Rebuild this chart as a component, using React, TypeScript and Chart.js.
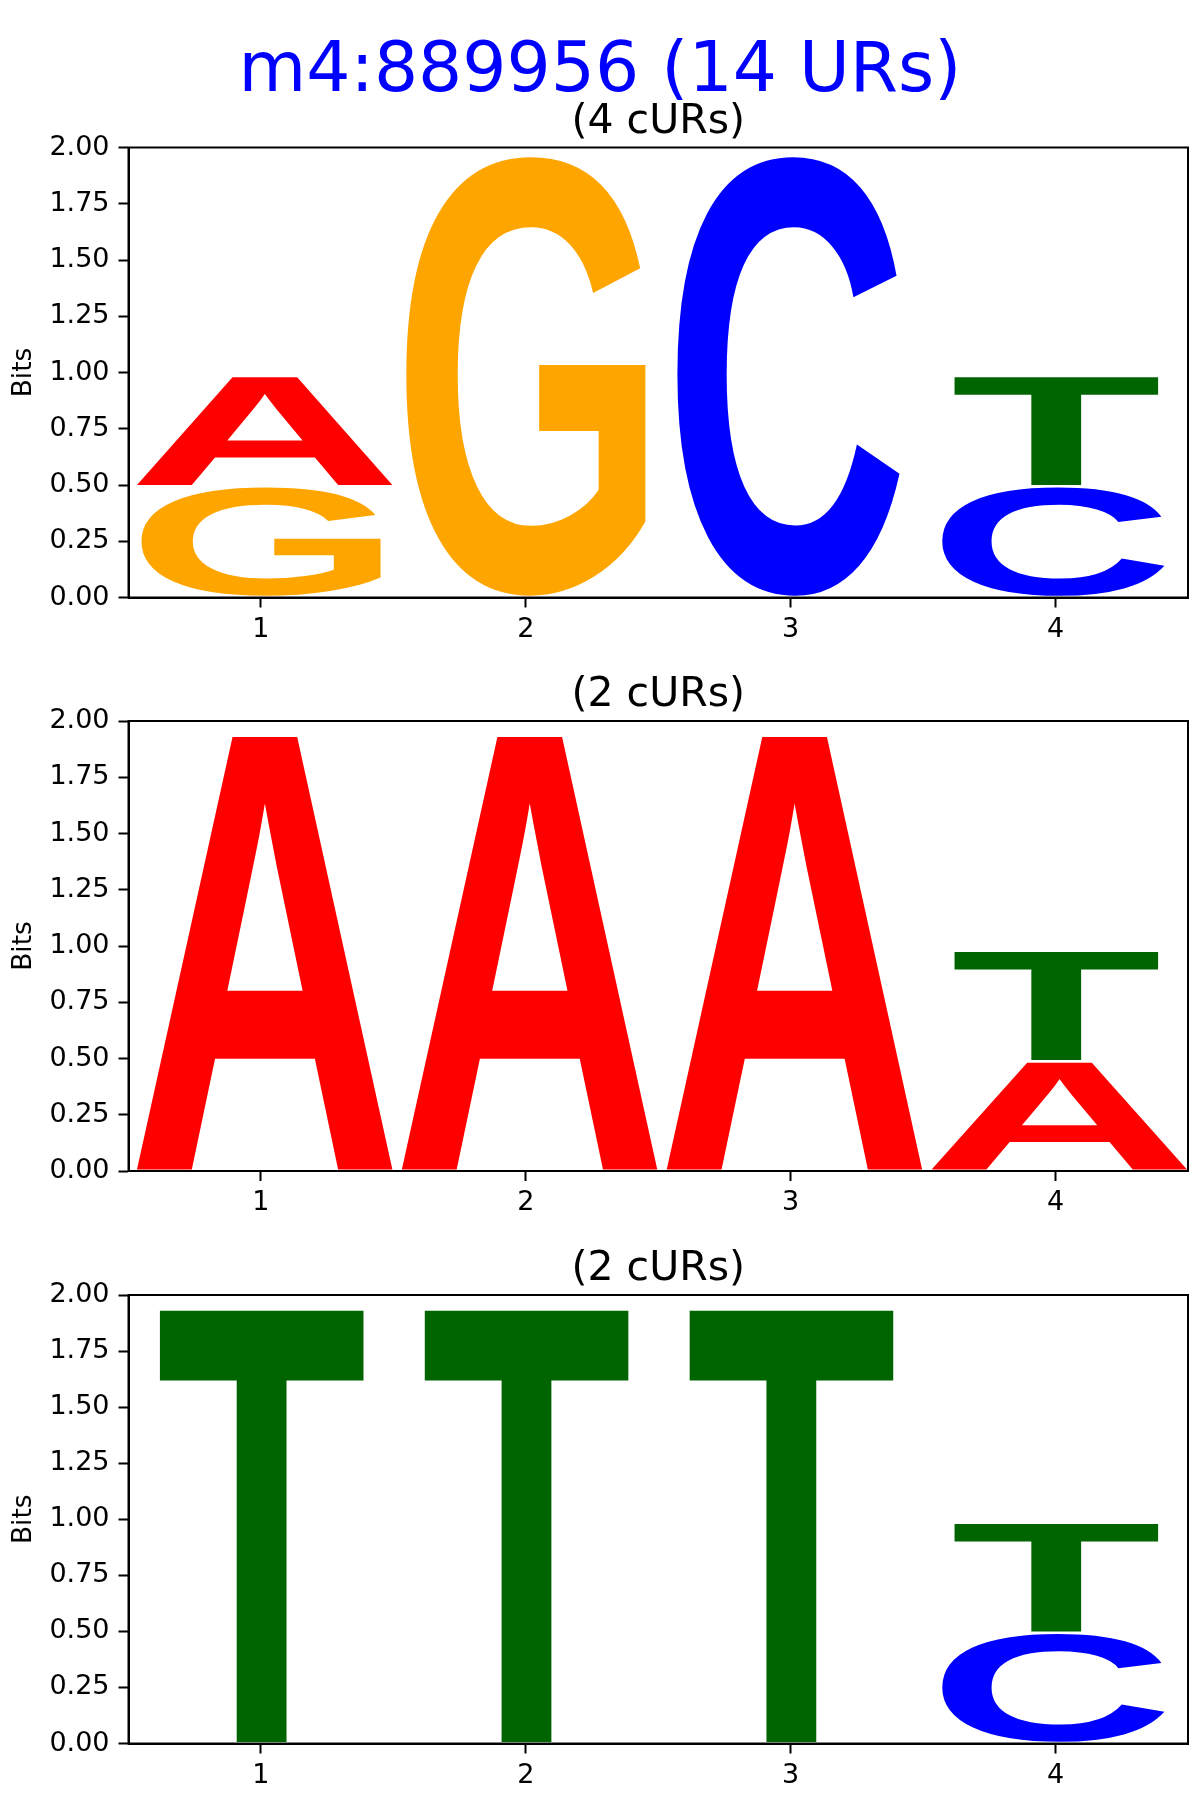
import React, { useEffect, useRef } from 'react';
import { Chart, registerables } from 'chart.js';

Chart.register(...registerables);

// ---------------- data ----------------
const FIGURE_TITLE = 'm4:889956 (14 URs)';
const POSITIONS = ['1', '2', '3', '4'];
const Y_MIN = 0;
const Y_MAX = 2;
const Y_TICK_STEP = 0.25;
const Y_LABEL = 'Bits';
// stacking order, bottom to top
const LETTERS = ['C', 'G', 'A', 'T'];

const PANEL_TITLES = ['(4 cURs)', '(2 cURs)', '(2 cURs)'];

// panel 1 (4 cURs): bits per letter per position
const p1A = [0.49, 0, 0, 0];
const p1C = [0, 0, 1.967, 0.495];
const p1G = [0.495, 1.967, 0, 0];
const p1T = [0, 0, 0, 0.49];

// panel 2 (2 cURs)
const p2A = [1.94, 1.94, 1.94, 0.488];
const p2C = [0, 0, 0, 0];
const p2G = [0, 0, 0, 0];
const p2T = [0, 0, 0, 0.492];

// panel 3 (2 cURs)
const p3A = [0, 0, 0, 0];
const p3C = [0, 0, 0, 0.495];
const p3G = [0, 0, 0, 0];
const p3T = [1.94, 1.94, 1.94, 0.49];

const PANELS = [
  { title: PANEL_TITLES[0], values: { A: p1A, C: p1C, G: p1G, T: p1T } },
  { title: PANEL_TITLES[1], values: { A: p2A, C: p2C, G: p2G, T: p2T } },
  { title: PANEL_TITLES[2], values: { A: p3A, C: p3C, G: p3G, T: p3T } },
];

// ---------------- style ----------------
const FONT = 'DejaVu Sans';
const GLYPH_FONT = 'Liberation Sans';
const LETTER_STYLE: Record<string, { color: string; width: number; shift: number }> = {
  A: { color: '#ff0000', width: 0.963, shift: 0.016 },
  C: { color: '#0000ff', width: 0.838, shift: -0.01 },
  G: { color: '#ffa500', width: 0.905, shift: 0 },
  T: { color: '#006400', width: 0.77, shift: 0.002 },
};
const GLYPH_PAD = 0.005; // vertical padding in data units

const PANEL_TOPS = [147.5, 721, 1295];
const PANEL_HEIGHTS = [450, 450, 448.5];
const PLOT_LEFT = 128.5;
const PLOT_RIGHT = 1188;
const PAD_TOP = 80;
const X_AXIS_H = 70;
const TICK_FONT = 27;

const GLYPH_SIZE = 300;
const metricCache: Record<string, { x0: number; y0: number; x1: number; y1: number; ox: number; oy: number }> = {};

function glyphBox(ch: string) {
  if (metricCache[ch]) return metricCache[ch];
  const W = 600;
  const H = 600;
  const c = document.createElement('canvas');
  c.width = W;
  c.height = H;
  const g = c.getContext('2d')!;
  g.font = `bold ${GLYPH_SIZE}px "${GLYPH_FONT}"`;
  g.textAlign = 'left';
  g.textBaseline = 'alphabetic';
  g.fillStyle = '#000';
  const ox = 150;
  const oy = 450;
  g.fillText(ch, ox, oy);
  const d = g.getImageData(0, 0, W, H).data;
  let x0 = W, y0 = H, x1 = 0, y1 = 0;
  for (let yy = 0; yy < H; yy++) {
    for (let xx = 0; xx < W; xx++) {
      if (d[(yy * W + xx) * 4 + 3] > 100) {
        if (xx < x0) x0 = xx;
        if (xx + 1 > x1) x1 = xx + 1;
        if (yy < y0) y0 = yy;
        if (yy + 1 > y1) y1 = yy + 1;
      }
    }
  }
  const box = { x0, y0, x1, y1, ox, oy };
  metricCache[ch] = box;
  return box;
}

function drawGlyph(ctx: CanvasRenderingContext2D, ch: string, color: string, x: number, y: number, w: number, h: number) {
  if (w <= 0 || h <= 0) return;
  const b = glyphBox(ch);
  const gw = b.x1 - b.x0;
  const gh = b.y1 - b.y0;
  ctx.save();
  ctx.font = `bold ${GLYPH_SIZE}px "${GLYPH_FONT}"`;
  ctx.textAlign = 'left';
  ctx.textBaseline = 'alphabetic';
  ctx.translate(x, y);
  ctx.scale(w / gw, h / gh);
  ctx.fillStyle = color;
  ctx.fillText(ch, b.ox - b.x0, b.oy - b.y0);
  ctx.restore();
}

const logoPlugin = {
  id: 'logoGlyphs',
  afterDatasetsDraw(chart: any) {
    const ctx: CanvasRenderingContext2D = chart.ctx;
    const xs = chart.scales.x;
    const ys = chart.scales.y;
    const unit = Math.abs(xs.getPixelForValue(1) - xs.getPixelForValue(0));
    const zeroPx = ys.getPixelForValue(0);
    const padPx = Math.abs(ys.getPixelForValue(GLYPH_PAD) - zeroPx);
    chart.data.datasets.forEach((ds: any, di: number) => {
      const meta = chart.getDatasetMeta(di);
      const st = LETTER_STYLE[ds.label];
      meta.data.forEach((bar: any, i: number) => {
        const v = ds.data[i];
        if (!v) return;
        const p = bar.getProps(['x', 'y', 'base'], true);
        const top = Math.min(p.y, p.base) + padPx;
        const lowEdge = Math.max(p.y, p.base);
        const bottom = Math.abs(lowEdge - zeroPx) < 0.5 ? lowEdge : lowEdge - padPx;
        const w = st.width * unit;
        const cx = p.x + st.shift * unit;
        drawGlyph(ctx, ds.label, st.color, cx - w / 2, top, w, bottom - top);
      });
    });
  },
  afterDraw(chart: any, _args: any, opts: any) {
    const ctx: CanvasRenderingContext2D = chart.ctx;
    const a = chart.chartArea;
    ctx.save();
    ctx.strokeStyle = '#000';
    ctx.lineWidth = 2;
    ctx.strokeRect(a.left, a.top, a.right - a.left, a.bottom - a.top);
    ctx.fillStyle = '#000';
    ctx.font = `41px "${FONT}"`;
    ctx.textAlign = 'center';
    ctx.textBaseline = 'alphabetic';
    ctx.fillText(opts.subtitle || '', (a.left + a.right) / 2, a.top - 15);
    ctx.restore();
  },
};

function Panel({ index }: { index: number }) {
  const ref = useRef<HTMLCanvasElement | null>(null);
  const panelTop = PANEL_TOPS[index];
  const canvasTop = Math.floor(panelTop) - PAD_TOP;
  const padTop = panelTop - canvasTop;
  const height = Math.ceil(padTop + PANEL_HEIGHTS[index] + X_AXIS_H);
  const xAxisH = height - padTop - PANEL_HEIGHTS[index];

  useEffect(() => {
    if (!ref.current) return;
    const panel = PANELS[index];
    const datasets = LETTERS.map((L) => ({
      label: L,
      data: (panel.values as any)[L],
      backgroundColor: 'rgba(0,0,0,0)',
      borderWidth: 0,
      barPercentage: 1,
      categoryPercentage: 1,
    }));
    const gridCfg = {
      display: true,
      drawOnChartArea: false,
      drawTicks: true,
      tickLength: 10,
      tickWidth: 2,
      tickColor: '#000',
    };
    const borderCfg = { display: true, color: '#000', width: 2 };
    const chart = new Chart(ref.current, {
      type: 'bar',
      data: { labels: POSITIONS, datasets },
      options: {
        responsive: false,
        animation: false,
        devicePixelRatio: 1,
        layout: { padding: { top: padTop, right: 1200 - PLOT_RIGHT, left: 0, bottom: 0 } },
        plugins: {
          legend: { display: false },
          tooltip: { enabled: false },
          title: { display: false },
          logoGlyphs: { subtitle: panel.title },
        } as any,
        scales: {
          x: {
            type: 'category',
            stacked: true,
            offset: true,
            grid: { ...gridCfg, offset: false },
            border: borderCfg,
            ticks: { color: '#000', font: { family: FONT, size: TICK_FONT }, padding: 6, maxRotation: 0, autoSkip: false },
            afterFit: (s: any) => {
              s.height = xAxisH;
            },
          },
          y: {
            type: 'linear',
            stacked: true,
            min: Y_MIN,
            max: Y_MAX,
            grid: gridCfg,
            border: borderCfg,
            ticks: {
              stepSize: Y_TICK_STEP,
              color: '#000',
              font: { family: FONT, size: TICK_FONT },
              padding: 9,
              callback: (v: any) => Number(v).toFixed(2),
            },
            title: {
              display: true,
              text: Y_LABEL,
              color: '#000',
              font: { family: FONT, size: 26.5 },
              padding: { top: 8, bottom: 0 },
            },
            afterFit: (s: any) => {
              s.width = PLOT_LEFT;
            },
          },
        } as any,
      },
      plugins: [logoPlugin],
    });
    return () => chart.destroy();
  }, [index]);

  return (
    <canvas
      ref={ref}
      width={1200}
      height={height}
      style={{ position: 'absolute', left: 0, top: canvasTop, width: 1200, height }}
    />
  );
}

export default function App() {
  return (
    <div style={{ position: 'absolute', left: 0, top: 0, width: 1200, height: 1800, background: '#fff' }}>
      <div
        style={{
          position: 'absolute',
          left: 0,
          top: 32,
          width: 1200,
          textAlign: 'center',
          fontFamily: FONT,
          fontSize: 69.5,
          lineHeight: '69px',
          color: '#0000ff',
          whiteSpace: 'nowrap',
        }}
      >
        {FIGURE_TITLE}
      </div>
      {PANELS.map((_, i) => (
        <Panel key={i} index={i} />
      ))}
    </div>
  );
}
